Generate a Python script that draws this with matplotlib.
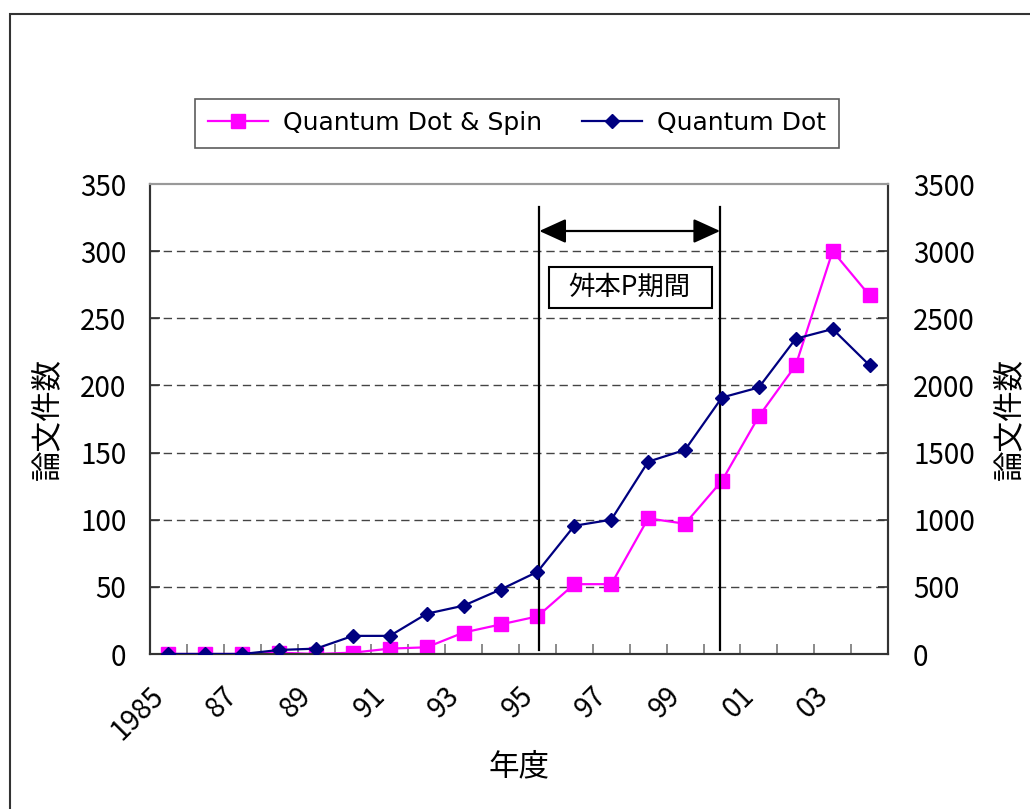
import matplotlib
matplotlib.use("Agg")
import matplotlib.pyplot as plt
from matplotlib.patches import Rectangle
from matplotlib.lines import Line2D
from matplotlib.transforms import ScaledTranslation

plt.rcParams['font.family'] = ['Noto Sans CJK JP', 'DejaVu Sans']

# ---- data ----
years = list(range(1985, 2005))
qd_spin = [0, 0, 0, 1, 0, 1, 4, 5, 16, 22, 28, 52, 52, 101, 97, 129, 177, 215, 300, 267]
qd = [0, 0, 0, 30, 40, 135, 135, 300, 360, 480, 612, 955, 1000, 1432, 1520, 1910, 1985, 2348, 2420, 2150]
tick_years = list(range(1985, 2005, 2))
tick_labels = ['1985', '87', '89', '91', '93', '95', '97', '99', '01', '03']
left_ticks = list(range(0, 351, 50))
right_ticks = list(range(0, 3501, 500))
period = (1995, 2000)
period_label = '舛本P期間'

W, H = 1030, 809
fig = plt.figure(figsize=(W / 100, H / 100), dpi=100)

# outer chart frame (extends beyond the canvas on right/bottom)
fig.patches.append(Rectangle((10 / W, -0.1), 1.2, 1 - 14 / H + 0.1,
                             transform=fig.transFigure, fill=False,
                             ec='#333333', lw=1.5))

ax = fig.add_axes([150 / W, 1 - 654 / H, (888 - 150) / W, (654 - 184) / H])
ax2 = ax.twinx()

x = list(range(len(years)))
xi = {y: i for i, y in enumerate(years)}

ax.plot(x, qd_spin, color='#FF00FF', lw=1.6, marker='s', ms=10,
        mec='#FF00FF', mfc='#FF00FF', label='Quantum Dot & Spin', zorder=3)
ax2.plot(x, qd, color='#000080', lw=1.6, marker='D', ms=7.5,
         mec='#000080', mfc='#000080', label='Quantum Dot', zorder=3)

ax.set_xlim(-0.5, len(years) - 0.5)
ax.set_ylim(0, 350)
ax2.set_ylim(0, 3500)

# y ticks
ax.set_yticks(left_ticks)
ax.set_yticklabels([str(v) for v in left_ticks])
ax2.set_yticks(right_ticks)
ax2.set_yticklabels([str(v) for v in right_ticks])
ax.tick_params(axis='y', direction='in', length=7, width=1.2, color='#333333',
               labelsize=20, pad=17)
ax2.tick_params(axis='y', direction='in', length=7, width=1.2, color='#333333',
                labelsize=20, pad=18)

# x ticks: labels at categories, tick marks at category boundaries
ax.set_xticks([xi[y] for y in tick_years])
ax.set_xticklabels(tick_labels, rotation=45, ha='right', va='center',
                   rotation_mode='anchor')
ax.tick_params(axis='x', which='major', length=0, labelsize=20, pad=27)
offset = ScaledTranslation(-9 / 100, 0, fig.dpi_scale_trans)
for lab in ax.get_xticklabels():
    lab.set_transform(lab.get_transform() + offset)
ax.set_xticks([i + 0.5 for i in range(len(years) - 1)], minor=True)
ax.tick_params(axis='x', which='minor', direction='in', length=7, width=1.2,
               color='#777777')
ax2.tick_params(axis='x', which='both', length=0)

# grid
for v in left_ticks[1:-1]:
    ax.axhline(v, color='#444444', lw=1.0, ls=(0, (6, 3.5)), zorder=1)

for a in (ax, ax2):
    for s in ('left', 'right', 'bottom'):
        a.spines[s].set_color('#333333')
        a.spines[s].set_linewidth(1.5)
    a.spines['top'].set_color('#999999')
    a.spines['top'].set_linewidth(1.5)

# period markers
xs, xe = xi[period[0]] + 0.05, xi[period[1]] - 0.05
for xv in (xs, xe):
    ax.plot([xv, xv], [3, 333], color='black', lw=1.6, zorder=4)
ax.annotate('', xy=(xe, 315), xytext=(xs, 315),
            arrowprops=dict(arrowstyle='<|-|>,head_length=0.55,head_width=0.25',
                            color='black', lw=1.6, mutation_scale=30,
                            shrinkA=0, shrinkB=0), zorder=5)
ax.add_patch(Rectangle((10.3, 258), 4.42, 30, fc='white', ec='black', lw=1.5,
                       zorder=5))
ax.text(12.5, 273, period_label, ha='center', va='center', fontsize=19,
        zorder=6)

# axis labels
ax.set_ylabel('論文件数', fontsize=22, labelpad=12)
ax2.set_ylabel('論文件数', fontsize=22, rotation=90, labelpad=14)
ax.set_xlabel('年度', fontsize=22, labelpad=4)

# legend
handles = [Line2D([], [], color='#FF00FF', lw=1.6, marker='s', ms=10),
           Line2D([], [], color='#000080', lw=1.6, marker='D', ms=7.5)]
leg = fig.legend(handles, ['Quantum Dot & Spin', 'Quantum Dot'], ncol=2,
                 loc='center', bbox_to_anchor=(517 / W, 1 - 123 / H),
                 frameon=True, fancybox=False, edgecolor='#333333',
                 handlelength=2.4, handletextpad=0.6, columnspacing=1.6,
                 borderpad=0.5, borderaxespad=0,
                 prop={'family': ['DejaVu Sans'], 'size': 18})
leg.get_frame().set_linewidth(1.2)

fig.savefig('out.png', dpi=100)
